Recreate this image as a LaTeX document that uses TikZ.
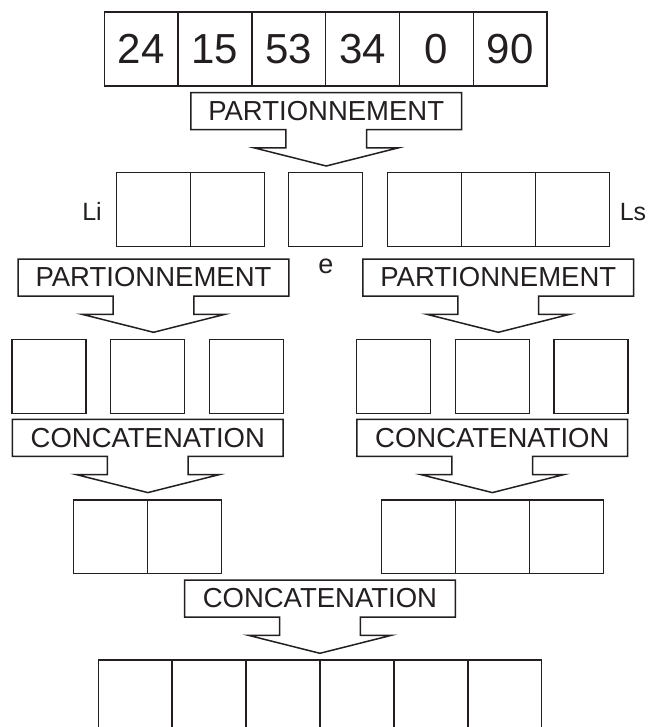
\documentclass[tikz,border=0pt]{standalone}
\usepackage{fontspec}
\setmainfont{Liberation Sans}
\definecolor{ink}{HTML}{231F20}
\tikzset{
  cell/.style={draw=ink, line width=1.5pt, minimum width=73.8pt, minimum height=74pt, inner sep=0pt, outer sep=0pt, text=ink, font=\fontsize{42}{46}\selectfont},
  calloutline/.style={draw=ink, line width=1.5pt, line join=miter},
  lbl/.style={text=ink, inner sep=0pt, font=\fontsize{27.5}{30}\selectfont},
  side/.style={text=ink, inner sep=0pt, anchor=base, font=\fontsize{25}{28}\selectfont},
}
\newcommand\mycallout[4]{%
  \begin{scope}[shift={(#2,#3)}]
    \draw[calloutline] (-135.4,0) -- (135.4,0) -- (135.4,37) -- (40.4,37) -- (40.4,55.3) -- (71.5,55.3) -- (0,73.3) -- (-71.5,55.3) -- (-40.4,55.3) -- (-40.4,37) -- (-135.4,37) -- cycle;
    \node[lbl] (#1) at (0,18.5) {#4};
  \end{scope}}
\begin{document}
\begin{tikzpicture}[x=1pt,y=-1pt]
\clip (0,0) rectangle (651,727);
\fill[white] (0,0) rectangle (651,727);
% top array
\node[cell] (t1) at (141.2,49) {24};
\node[cell] (t2) at (215.0,49) {15};
\node[cell] (t3) at (288.8,49) {53};
\node[cell] (t4) at (362.6,49) {34};
\node[cell] (t5) at (436.4,49) {0};
\node[cell] (t6) at (510.2,49) {90};
\mycallout{p1}{326.2}{92.7}{PARTIONNEMENT}
% level 2
\node[cell] (li1) at (153.6,209.7) {};
\node[cell] (li2) at (227.4,209.7) {};
\node[cell, minimum width=74pt] (e) at (325.7,209.7) {};
\node[cell, minimum width=73.9pt] (ls1) at (424.65,209.7) {};
\node[cell, minimum width=73.9pt] (ls2) at (498.55,209.7) {};
\node[cell, minimum width=73.9pt] (ls3) at (572.45,209.7) {};
\node[side] (lLi) at (92,220) {Li};
\node[side] (lLs) at (633,220) {Ls};
\node[side, font=\fontsize{27}{30}\selectfont] (le) at (326,273) {e};
\mycallout{p2}{153.5}{259}{PARTIONNEMENT}
\mycallout{p3}{498.3}{259}{PARTIONNEMENT}
% level 3
\node[cell, minimum width=74pt] (a1) at (48.8,376.3) {};
\node[cell, minimum width=74pt] (a2) at (147.5,376.3) {};
\node[cell, minimum width=74pt] (a3) at (246.3,376.3) {};
\node[cell, minimum width=74pt] (b1) at (393.7,376.3) {};
\node[cell, minimum width=74pt] (b2) at (492.3,376.3) {};
\node[cell, minimum width=74pt] (b3) at (591.1,376.3) {};
\mycallout{c1}{147.8}{419.3}{CONCATENATION}
\mycallout{c2}{492.3}{419.3}{CONCATENATION}
% level 4
\node[cell, minimum width=74.2pt, minimum height=73.3pt] (d1) at (110.4,536.65) {};
\node[cell, minimum width=74.2pt, minimum height=73.3pt] (d2) at (184.6,536.65) {};
\node[cell, minimum width=73.9pt, minimum height=73.3pt] (f1) at (418.65,536.65) {};
\node[cell, minimum width=73.9pt, minimum height=73.3pt] (f2) at (492.55,536.65) {};
\node[cell, minimum width=73.9pt, minimum height=73.3pt] (f3) at (566.45,536.65) {};
\mycallout{c3}{319.9}{580}{CONCATENATION}
% bottom array (cut by the page edge)
\node[cell, minimum width=73.9pt, minimum height=80pt] (r1) at (135.25,700) {};
\node[cell, minimum width=73.9pt, minimum height=80pt] (r2) at (209.15,700) {};
\node[cell, minimum width=73.9pt, minimum height=80pt] (r3) at (283.05,700) {};
\node[cell, minimum width=73.9pt, minimum height=80pt] (r4) at (356.95,700) {};
\node[cell, minimum width=73.9pt, minimum height=80pt] (r5) at (430.85,700) {};
\node[cell, minimum width=73.9pt, minimum height=80pt] (r6) at (504.75,700) {};
\end{tikzpicture}
\end{document}
